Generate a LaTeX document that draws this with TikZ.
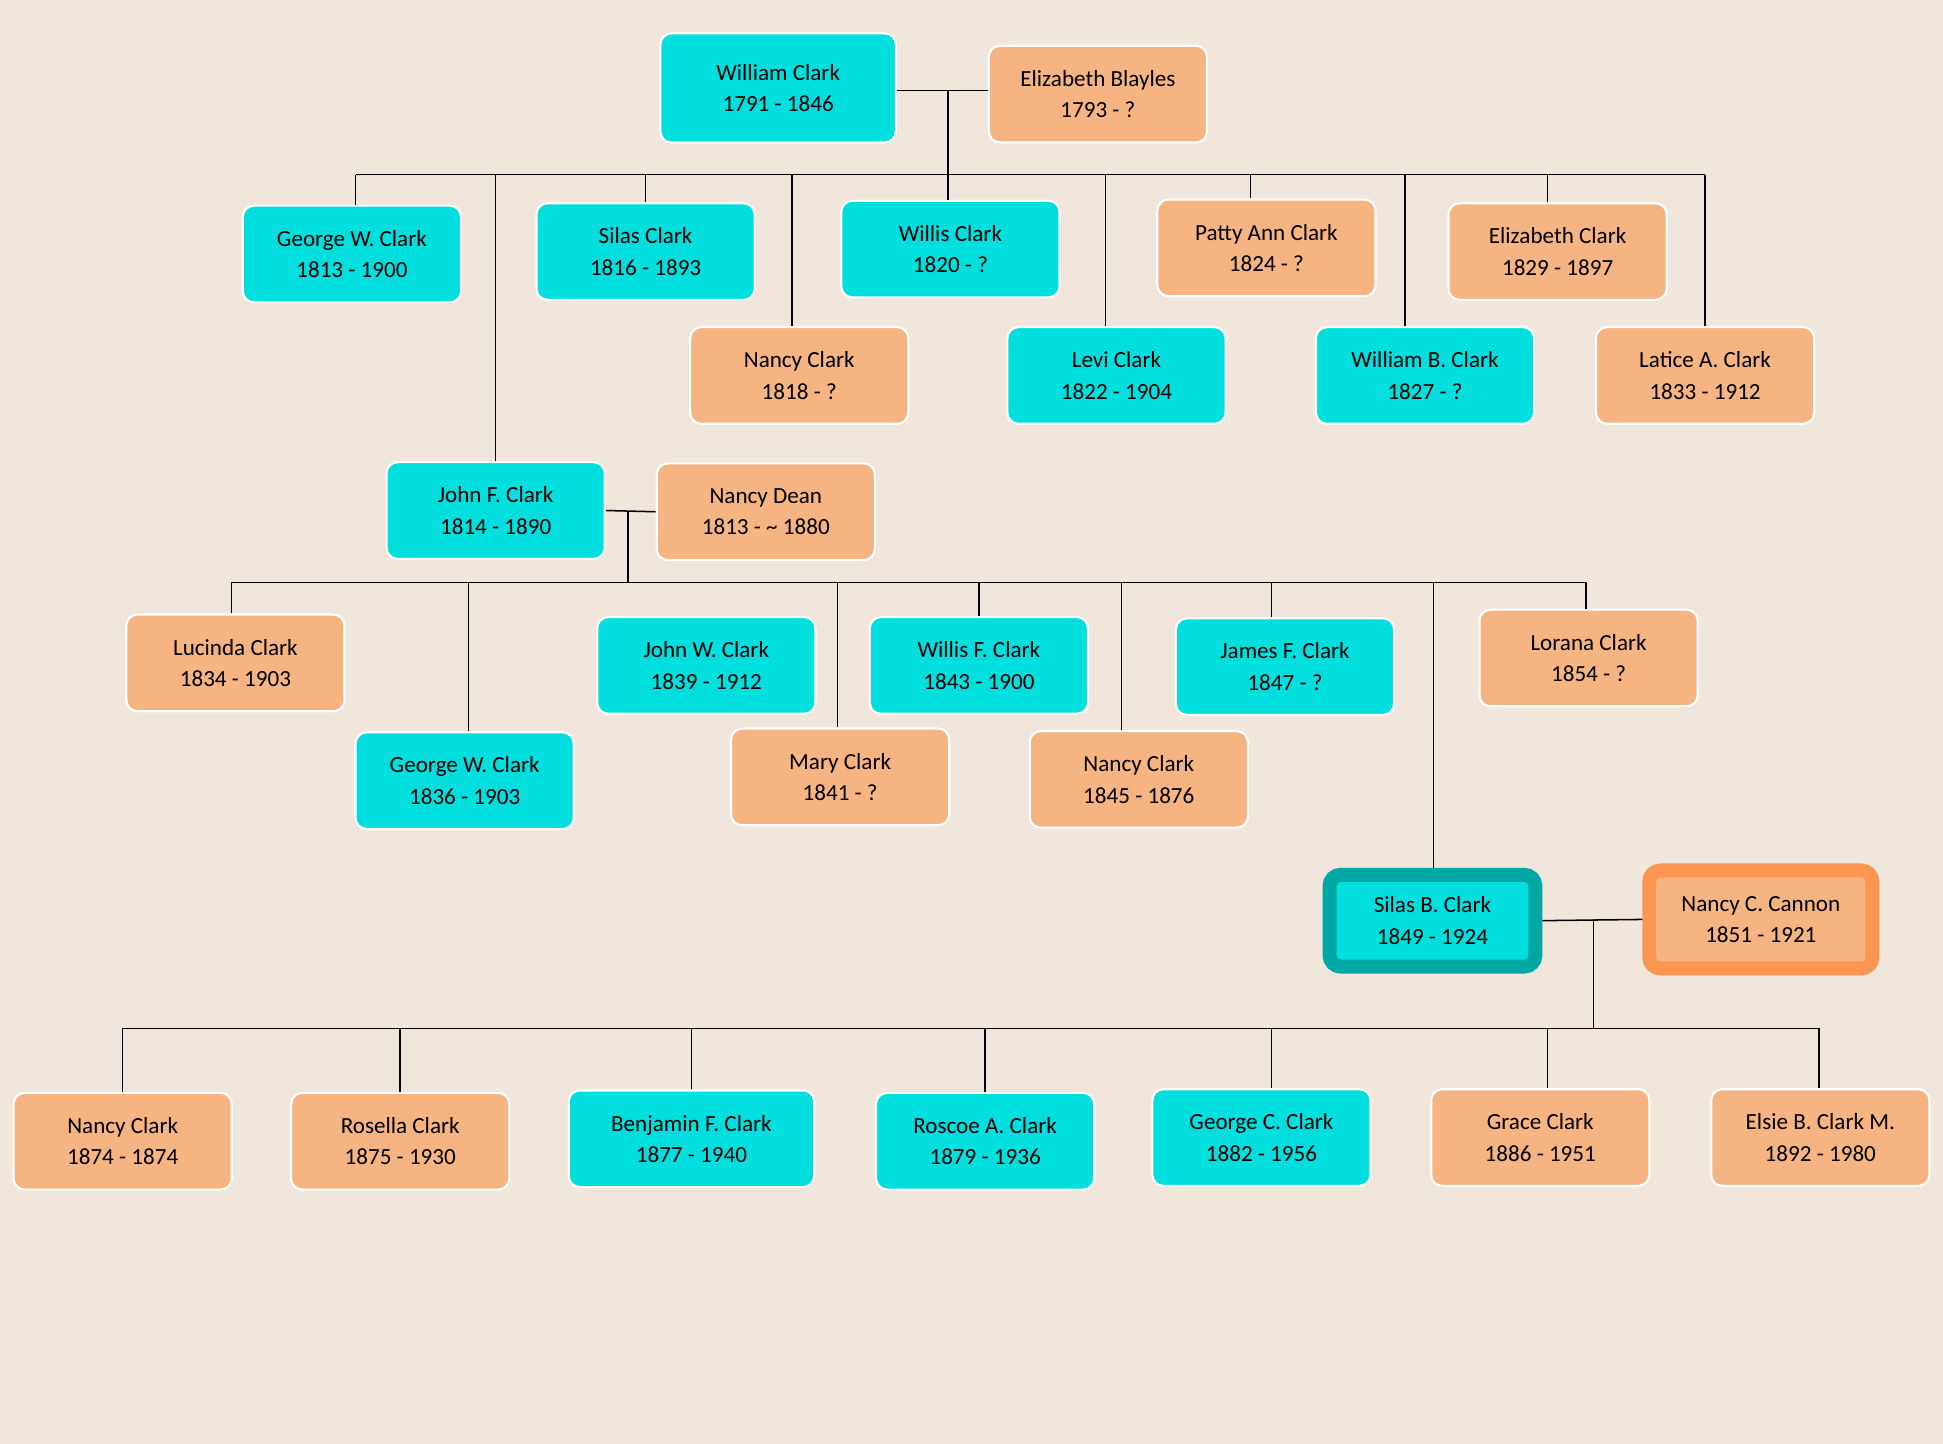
\documentclass[tikz,border=0pt]{standalone}
\usepackage{fontspec}
\setmainfont{Carlito}
\usetikzlibrary{calc}
\definecolor{bgbeige}{RGB}{240,230,220}
\definecolor{boycyan}{RGB}{0,222,222}
\definecolor{girlpeach}{RGB}{245,180,130}
\definecolor{boyedge}{RGB}{0,168,165}
\definecolor{girledge}{RGB}{250,150,80}
\tikzset{
  person/.style={rounded corners=0.09cm,draw=white,line width=0.5pt,
    minimum width=1.76cm,minimum height=0.78cm,align=center,
    font=\fontsize{5.3}{7.2}\selectfont,inner sep=1pt},
  m/.style={person,fill=boycyan},
  f/.style={person,fill=girlpeach},
  tie/.style={line width=0.35pt,black}
}
\begin{document}
\begin{tikzpicture}[x=0.01cm,y=-0.01cm]
\fill[bgbeige] (0,0) rectangle (1568,1165);
\useasboundingbox (0,0) rectangle (1568,1165);
% first couple
\node[m,minimum width=1.9cm,minimum height=0.88cm] (wc) at (628,71) {William Clark\\1791 - 1846};
\node[f] (eb) at (886,76) {Elizabeth Blayles\\1793 - ?};
\coordinate (bar1) at (765,141);
\draw[tie] (wc.east |- 0,73) -- (eb.west |- 0,73);
\draw[tie] (765,73) -- (bar1);
\draw[tie] (287,141) -- (1376,141);
% their children
\node[m] (gwc) at (284,205) {George W. Clark\\1813 - 1900};
\node[m] (sc) at (521,203) {Silas Clark\\1816 - 1893};
\node[f] (nc) at (645,303) {Nancy Clark\\1818 - ?};
\node[m] (wic) at (767,201) {Willis Clark\\1820 - ?};
\node[m] (lc) at (901,303) {Levi Clark\\1822 - 1904};
\node[f] (pac) at (1022,200) {Patty Ann Clark\\1824 - ?};
\node[m] (wbc) at (1150,303) {William B. Clark\\1827 - ?};
\node[f] (ec) at (1257,203) {Elizabeth Clark\\1829 - 1897};
\node[f] (lac) at (1376,303) {Latice A. Clark\\1833 - 1912};
\node[m] (jfc) at (400,412) {John F. Clark\\1814 - 1890};
\foreach \n/\dx in {gwc/3,sc/0,nc/-6,wic/-2,lc/-9,pac/-13,wbc/-16,ec/-8,lac/0,jfc/0}
  \draw[tie] ([xshift=\dx*0.01cm]\n.north) -- ([xshift=\dx*0.01cm]\n.north |- bar1);
% second couple
\node[f] (nd) at (618,413) {Nancy Dean\\1813 - \textasciitilde{} 1880};
\coordinate (bar2) at (507,470);
\draw[tie] (jfc.east) -- (nd.west);
\draw[tie] (507,413) -- (bar2);
\draw[tie] (187,470) -- (1281,470);
\node[f] (luc) at (190,535) {Lucinda Clark\\1834 - 1903};
\node[m] (gwc2) at (375,630) {George W. Clark\\1836 - 1903};
\node[m] (jwc) at (570,537) {John W. Clark\\1839 - 1912};
\node[f] (mc) at (678,627) {Mary Clark\\1841 - ?};
\node[m] (wfc) at (790,537) {Willis F. Clark\\1843 - 1900};
\node[f] (nc2) at (919,629) {Nancy Clark\\1845 - 1876};
\node[m] (jac) at (1037,538) {James F. Clark\\1847 - ?};
\node[f] (loc) at (1282,531) {Lorana Clark\\1854 - ?};
\node[m,draw=boyedge,line width=3.2pt,minimum width=1.66cm,minimum height=0.74cm] (sbc) at (1156,743) {Silas B. Clark\\1849 - 1924};
\foreach \n/\dx in {luc/-3,gwc2/3,mc/-2,wfc/0,nc2/-14,jac/-11,loc/-2,sbc/1}
  \draw[tie] ([xshift=\dx*0.01cm]\n.north) -- ([xshift=\dx*0.01cm]\n.north |- bar2);
% third couple
\node[f,draw=girledge,line width=3.2pt,minimum width=1.8cm,minimum height=0.79cm] (ncc) at (1421,742) {Nancy C. Cannon\\1851 - 1921};
\coordinate (bar3) at (1286,830);
\draw[tie] (sbc.east) -- (ncc.west);
\draw[tie] (1286,742) -- (bar3);
\draw[tie] (99,830) -- (1468,830);
\node[f] (nc3) at (99,921) {Nancy Clark\\1874 - 1874};
\node[f] (rc) at (323,921) {Rosella Clark\\1875 - 1930};
\node[m,minimum width=1.98cm] (bfc) at (558,919) {Benjamin F. Clark\\1877 - 1940};
\node[m] (rac) at (795,921) {Roscoe A. Clark\\1879 - 1936};
\node[m] (gcc) at (1018,918) {George C. Clark\\1882 - 1956};
\node[f] (gc) at (1243,918) {Grace Clark\\1886 - 1951};
\node[f] (ebm) at (1469,918) {Elsie B. Clark M.\\1892 - 1980};
\foreach \n/\dx in {nc3/0,rc/0,bfc/0,rac/0,gcc/8,gc/6,ebm/-1}
  \draw[tie] ([xshift=\dx*0.01cm]\n.north) -- ([xshift=\dx*0.01cm]\n.north |- bar3);
\end{tikzpicture}
\end{document}
